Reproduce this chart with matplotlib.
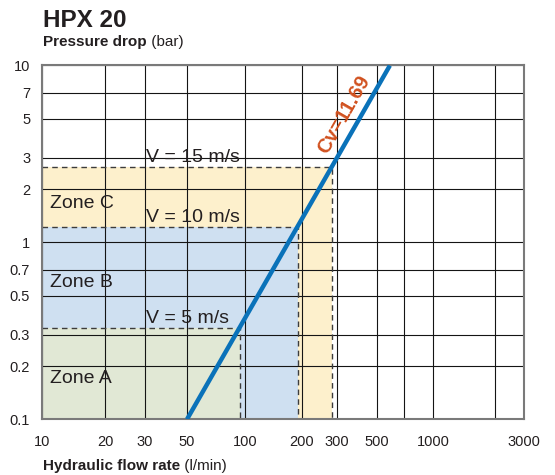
import numpy as np
import matplotlib
matplotlib.use("Agg")
import matplotlib.pyplot as plt
from matplotlib.ticker import FixedLocator, FixedFormatter, NullFormatter

plt.rcParams["font.family"] = ["Liberation Sans", "DejaVu Sans"]

TEXT = "#231f20"

# axis ticks (as printed)
x_ticks = [10, 20, 30, 50, 100, 200, 300, 500, 1000, 3000]
x_minor = [700, 2000]
y_ticks = [0.1, 0.2, 0.3, 0.5, 0.7, 1, 2, 3, 5, 7, 10]
y_labels = ["0.1", "0.2", "0.3", "0.5", "0.7", "1", "2", "3", "5", "7", "10"]

# Cv = 11.69 characteristic (flow l/min, pressure drop bar)
cv_flow = [50, 587]
cv_dp = [0.1, 10]

# velocity limits -> zone corners on the characteristic
zone_names = ["Zone A", "Zone B", "Zone C"]
zone_speed = ["V = 5 m/s", "V = 10 m/s", "V = 15 m/s"]
zone_flow = [94, 190, 284]
zone_dp = [0.33, 1.22, 2.68]
zone_colors = ["#e1e8d5", "#cfe0f1", "#fdf0cc"]

# the printed x axis is not a clean log scale: calibrate log10(x) -> position
cal_x = [10, 20, 30, 50, 100, 200, 300, 500, 700, 1000, 2000, 3000]
cal_pos = [42, 105, 145, 187, 245, 302, 337, 377, 404, 433, 495, 524]
cal_log = np.log10(cal_x)


def fwd(x):
    return np.interp(np.log10(np.clip(x, 1e-6, None)), cal_log, cal_pos)


def inv(p):
    return 10 ** np.interp(p, cal_pos, cal_log)


fig = plt.figure(figsize=(5.55, 4.75), dpi=100)
ax = fig.add_axes([42 / 555, (475 - 419.3) / 475, 482 / 555, 353.8 / 475])

ax.set_xscale("function", functions=(fwd, inv))
ax.set_yscale("log")
ax.set_xlim(10, 3000)
ax.set_ylim(0.1, 10)

ax.xaxis.set_major_locator(FixedLocator(x_ticks))
ax.xaxis.set_major_formatter(FixedFormatter([str(v) for v in x_ticks]))
ax.xaxis.set_minor_locator(FixedLocator(x_minor))
ax.xaxis.set_minor_formatter(NullFormatter())
ax.yaxis.set_major_locator(FixedLocator(y_ticks))
ax.yaxis.set_major_formatter(FixedFormatter(y_labels))
ax.yaxis.set_minor_locator(FixedLocator([]))

ax.tick_params(which="both", length=0)
ax.tick_params(axis="x", pad=11.5, labelsize=10.5, labelcolor=TEXT)
ax.tick_params(axis="y", pad=8.5, labelsize=10.5, labelcolor=TEXT)
ax.set_axisbelow(True)
ax.grid(which="both", color="#151515", lw=0.8)
for sp in ax.spines.values():
    sp.set_color("#7a7a7a")
    sp.set_linewidth(1.5)

# zones, largest first so smaller ones sit on top
for i in reversed(range(3)):
    ax.fill_between([10, zone_flow[i]], 0.1, zone_dp[i],
                    color=zone_colors[i], lw=0, zorder=0.1)
for i in range(3):
    ax.plot([10, zone_flow[i], zone_flow[i]], [zone_dp[i], zone_dp[i], 0.1],
            ls=(0, (4, 3)), color="#3c3c3c", lw=1.0, zorder=2)
    ax.annotate(zone_speed[i], xy=(30, zone_dp[i]), xytext=(1, 3.5),
                textcoords="offset points", va="baseline", ha="left",
                fontsize=14, color=TEXT, zorder=4)

zone_label_y = [0.1026, 0.375, 0.597]
for name, yy in zip(zone_names, zone_label_y):
    ax.text(0.0166, yy, name, transform=ax.transAxes, va="baseline",
            ha="left", fontsize=14, color=TEXT, zorder=4)

ax.plot(cv_flow, cv_dp, color="#0a72b9", lw=3.2, solid_capstyle="butt",
        zorder=3)

# Cv label, parallel to the characteristic
p0, p1 = ax.transData.transform(np.column_stack([cv_flow, cv_dp]))
ang = np.degrees(np.arctan2(p1[1] - p0[1], p1[0] - p0[0]))
pm = p0 + 0.84 * (p1 - p0)
nrm = np.array([-np.sin(np.radians(ang)), np.cos(np.radians(ang))])
anchor = ax.transData.inverted().transform(pm)
off = nrm * 15 * 72 / fig.dpi
ax.annotate("Cv=11.69", xy=anchor, xytext=off, textcoords="offset points",
            rotation=ang, rotation_mode="anchor", ha="center", va="center",
            fontsize=14.5, fontweight="bold", color="#d1511f", zorder=5)

# titles
fig.text(43 / 555, (475 - 26.7) / 475, "HPX 20", fontsize=17.5,
         fontweight="bold", color=TEXT, va="baseline")
t1 = fig.text(43 / 555, (475 - 46) / 475, "Pressure drop", fontsize=11,
              fontweight="bold", color=TEXT, va="baseline")
t2 = fig.text(43 / 555, (475 - 470) / 475, "Hydraulic flow rate", fontsize=11,
              fontweight="bold", color=TEXT, va="baseline")
for t, s in [(t1, " (bar)"), (t2, " (l/min)")]:
    ax.annotate(s, xy=(1, 0), xycoords=t, va="bottom", ha="left",
                fontsize=11, color=TEXT, annotation_clip=False)

fig.savefig("out.png", dpi=100)
